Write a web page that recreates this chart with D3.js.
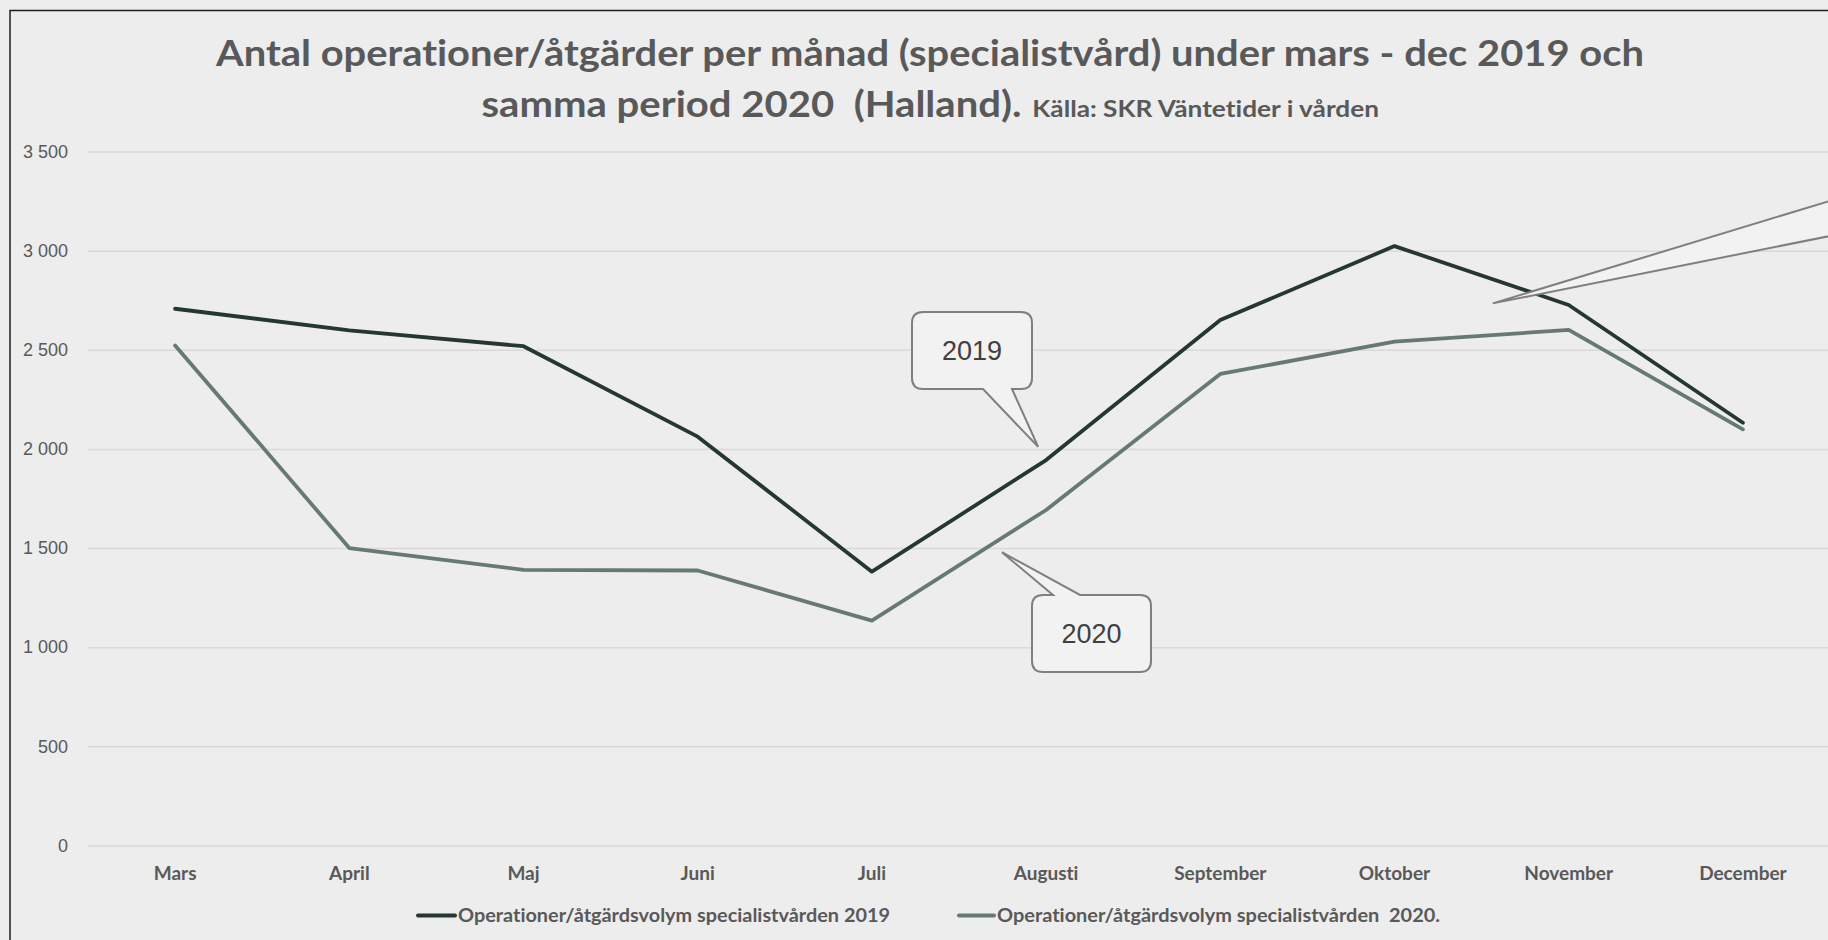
<!DOCTYPE html>
<html>
<head>
<meta charset="utf-8">
<script src="https://cdn.jsdelivr.net/npm/d3@7"></script>
<style>
  html, body { margin: 0; padding: 0; background: #ededed; overflow: hidden; }
  svg { display: block; }
  text { white-space: pre; font-variant-ligatures: none; font-feature-settings: "liga" 0, "clig" 0; }
</style>
</head>
<body>
<svg id="chart" width="1828" height="940"></svg>
<script>
// Months shown on the x axis (March–December)
const months = ["Mars", "April", "Maj", "Juni", "Juli", "Augusti", "September", "Oktober", "November", "December"];

// Monthly number of operations/procedures, specialist care, Halland
const volym2019 = [2707, 2598, 2518, 2062, 1381, 1944, 2650, 3023, 2726, 2132];
const volym2020 = [2522, 1500, 1390, 1387, 1134, 1692, 2378, 2541, 2600, 2099];

const yTicks = [0, 500, 1000, 1500, 2000, 2500, 3000, 3500];

const seriesNames = [
  "Operationer/åtgärdsvolym specialistvården 2019",
  "Operationer/åtgärdsvolym specialistvården  2020."
];

const titleLine1 = "Antal operationer/åtgärder per månad (specialistvård) under mars - dec 2019 och";
const titleLine2 = "samma period 2020  (Halland).";
const titleSource = " Källa: SKR Väntetider i vården";

const colors = ["#25382f", "#677a70"];
const textGrey = "#595959";

const svg = d3.select("#chart");
const W = 1828, H = 940;

// background and chart frame (frame continues past the right/bottom edge)
svg.append("rect").attr("width", W).attr("height", H).attr("fill", "#ededed");
svg.append("path")
  .attr("d", `M10,${H + 5} L10,10.5 L${W + 5},10.5`)
  .attr("fill", "none").attr("stroke", "#1e1e1e").attr("stroke-width", 1.5);

// plot area
const plot = { left: 88, right: 1830, top: 151.5, bottom: 845.5 };

const x = d3.scaleBand().domain(months).range([plot.left, plot.right]).padding(0);
const xc = m => x(m) + x.bandwidth() / 2;
const y = d3.scaleLinear().domain([0, 3500]).range([plot.bottom, plot.top]);

const loc = d3.formatLocale({ decimal: ",", thousands: " ", grouping: [3], currency: ["", " kr"] });
const fmt = loc.format(",d");

// horizontal gridlines + value labels
const yAxis = d3.axisLeft(y).tickValues(yTicks).tickFormat(fmt)
  .tickSize(-(plot.right - plot.left)).tickPadding(20);
const gy = svg.append("g").attr("transform", `translate(${plot.left},0)`).call(yAxis);
gy.select(".domain").remove();
gy.selectAll(".tick line").attr("stroke", "#d9d9d9").attr("stroke-width", 1.5);
gy.selectAll(".tick text")
  .attr("fill", textGrey)
  .style("font-family", "'Liberation Sans', Arial, sans-serif")
  .style("font-size", "18px");

// month labels
const xAxis = d3.axisBottom(x).tickSize(0).tickPadding(0);
const gx = svg.append("g").attr("transform", `translate(0,${plot.bottom})`).call(xAxis);
gx.select(".domain").remove();
gx.selectAll(".tick text")
  .attr("y", 0).attr("dy", null)
  .attr("transform", "translate(0,34)")
  .attr("fill", textGrey)
  .style("font-family", "Lato, 'Open Sans', sans-serif")
  .style("font-weight", "bold")
  .style("font-size", "19px");

// series lines
const line = d3.line().x((d, i) => xc(months[i])).y(d => y(d));
[volym2019, volym2020].forEach((vals, k) => {
  svg.append("path")
    .datum(vals)
    .attr("d", line)
    .attr("fill", "none")
    .attr("stroke", colors[k])
    .attr("stroke-width", 3.8)
    .attr("stroke-linejoin", "round")
    .attr("stroke-linecap", "round");
});

// speech-bubble callouts: rounded box with a wedge pointing at the lines
function callout(box, base, tip, label) {
  const { x0, y0, x1, y1 } = box, r = 11;
  const side = base.side;
  let d = `M${x0 + r},${y0}`;
  if (side === "top") d += ` L${base.a},${y0} L${tip[0]},${tip[1]} L${base.b},${y0}`;
  d += ` L${x1 - r},${y0} Q${x1},${y0} ${x1},${y0 + r} L${x1},${y1 - r} Q${x1},${y1} ${x1 - r},${y1}`;
  if (side === "bottom") d += ` L${base.b},${y1} L${tip[0]},${tip[1]} L${base.a},${y1}`;
  d += ` L${x0 + r},${y1} Q${x0},${y1} ${x0},${y1 - r}`;
  if (side === "left") d += ` L${x0},${base.b} L${tip[0]},${tip[1]} L${x0},${base.a}`;
  d += ` L${x0},${y0 + r} Q${x0},${y0} ${x0 + r},${y0} Z`;
  const g = svg.append("g");
  g.append("path").attr("d", d)
    .attr("fill", "#f2f2f2").attr("stroke", "#7f7f7f").attr("stroke-width", 2)
    .attr("stroke-linejoin", "miter");
  if (label) {
    g.append("text")
      .attr("x", (x0 + x1) / 2).attr("y", (y0 + y1) / 2)
      .attr("text-anchor", "middle").attr("dominant-baseline", "central")
      .attr("fill", "#404040")
      .style("font-family", "'Liberation Sans', Arial, sans-serif")
      .style("font-size", "27px")
      .text(label);
  }
}

// callout anchors expressed relative to the month positions
const step = x.bandwidth();
callout({ x0: 912, y0: 312, x1: 1032, y1: 389 },
        { side: "bottom", a: 983, b: 1012 },
        [xc("Augusti") - 8, y(2011)], "2019");
callout({ x0: 1032, y0: 595, x1: 1151, y1: 672 },
        { side: "top", a: 1053, b: 1080 },
        [xc("Juli") + 130, y(1479)], "2020");
callout({ x0: 1905, y0: 140, x1: 2030, y1: 260 },
        { side: "left", a: 178, b: 221 },
        [xc("Oktober") + 0.567 * step - 0.5, y(2734)], "");

// title
const titleFont = "Lato, 'Open Sans', sans-serif";
function fitted(sel, width) {
  sel.attr("textLength", width).attr("lengthAdjust", "spacingAndGlyphs");
  return sel;
}
fitted(svg.append("text")
  .attr("x", 216).attr("y", 65.5)
  .attr("fill", textGrey)
  .style("font-family", titleFont).style("font-weight", "bold").style("font-size", "36px")
  .text(titleLine1), 1428);
fitted(svg.append("text")
  .attr("x", 481.5).attr("y", 116.5)
  .attr("fill", textGrey)
  .style("font-family", titleFont).style("font-weight", "bold").style("font-size", "36px")
  .text(titleLine2), 540);
fitted(svg.append("text")
  .attr("x", 1026).attr("y", 116.5)
  .attr("fill", textGrey)
  .style("font-family", titleFont).style("font-weight", "bold").style("font-size", "23px")
  .text(titleSource), 353);

// legend
const legendItems = [
  { name: seriesNames[0], color: colors[0], x0: 418, x1: 455, tx: 458, tw: 432 },
  { name: seriesNames[1], color: colors[1], x0: 959, x1: 994, tx: 997, tw: 443 }
];
const legY = 915.5;
legendItems.forEach(it => {
  svg.append("line")
    .attr("x1", it.x0).attr("x2", it.x1).attr("y1", legY).attr("y2", legY)
    .attr("stroke", it.color).attr("stroke-width", 4).attr("stroke-linecap", "round");
  fitted(svg.append("text")
    .attr("x", it.tx).attr("y", legY).attr("dy", "0.35em")
    .attr("fill", textGrey)
    .style("font-family", titleFont).style("font-weight", "bold").style("font-size", "18px")
    .text(it.name), it.tw);
});
</script>
</body>
</html>
